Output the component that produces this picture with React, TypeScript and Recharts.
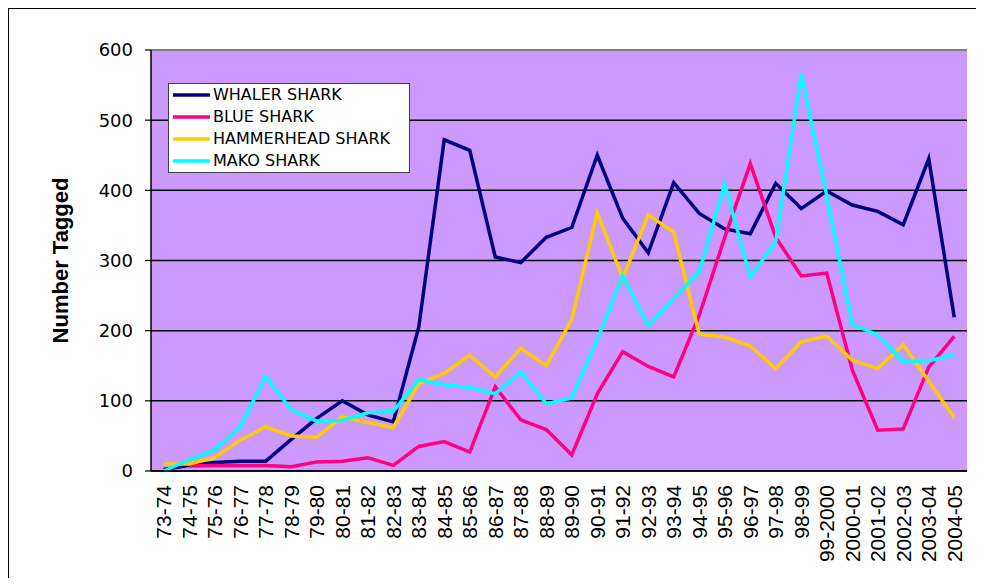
import React from 'react';
import { LineChart, Line, XAxis, YAxis, CartesianGrid, Legend, ReferenceLine, Label } from 'recharts';

const categories = ['73-74','74-75','75-76','76-77','77-78','78-79','79-80','80-81','81-82','82-83','83-84','84-85','85-86','86-87','87-88','88-89','89-90','90-91','91-92','92-93','93-94','94-95','95-96','96-97','97-98','98-99','99-2000','2000-01','2001-02','2002-03','2003-04','2004-05'];
const whaler = [2,8,12,14,14,45,75,100,80,70,205,472,457,305,297,333,347,450,360,311,411,367,345,338,410,374,399,379,370,351,445,219];
const blue = [null,7,8,8,8,6,13,14,19,8,35,42,27,120,73,59,23,110,170,149,134,222,333,438,333,278,282,144,58,60,148,192];
const hammer = [10,10,19,44,63,50,48,77,69,62,124,139,165,134,175,150,216,368,275,365,340,195,191,178,146,184,192,158,146,180,128,76];
const mako = [0,16,30,63,135,87,71,72,83,85,130,123,119,110,141,96,104,187,278,207,246,284,409,276,327,566,392,209,194,156,157,166];
const yTicks = [0,100,200,300,400,500,600];
const edgeTicks = categories.map((_, i) => i).concat([categories.length]);

const seriesNames = ['WHALER SHARK','BLUE SHARK','HAMMERHEAD SHARK','MAKO SHARK'];
const seriesKeys = ['whaler','blue','hammer','mako'];
const seriesColors = ['#000080','#FF0080','#FFCC00','#00FFFF'];

const data = categories.map((c, i) => ({
  cat: c,
  idx: i + 0.5,
  whaler: whaler[i],
  blue: blue[i],
  hammer: hammer[i],
  mako: mako[i],
}));

const XTick = (props: any) => {
  const { x, y, payload } = props;
  return (
    <text
      transform={`translate(${x},${y}) rotate(-90)`}
      textAnchor="end"
      dy="0.36em"
      fontFamily="'Liberation Sans', Arial, sans-serif"
      fontSize={21}
      fill="#000"
    >
      {payload.value}
    </text>
  );
};

const LegendBox = (props: any) => {
  const payload = (props.payload || []).slice().sort(
    (a: any, b: any) => seriesNames.indexOf(a.value) - seriesNames.indexOf(b.value)
  );
  return (
    <div
      style={{
        width: 242,
        height: 90,
        boxSizing: 'border-box',
        border: '1.5px solid #404040',
        background: '#fff',
        fontFamily: "'DejaVu Sans', Verdana, sans-serif",
        fontSize: 16,
        color: '#000',
      }}
    >
      {payload.map((p: any, i: number) => (
        <div key={i} style={{ height: 22, display: 'flex', alignItems: 'center', lineHeight: '22px' }}>
          <svg width={44} height={22} style={{ flex: 'none' }}>
            <line x1={4} x2={41} y1={11} y2={11} stroke={p.color} strokeWidth={3.5} />
          </svg>
          <span style={{ whiteSpace: 'nowrap' }}>{p.value}</span>
        </div>
      ))}
    </div>
  );
};

const YTitle = (props: any) => {
  const vb = props.viewBox || {};
  const cx = (vb.x || 0) + 52;
  const cy = (vb.y || 0) + (vb.height || 0) / 2;
  return (
    <text
      transform={`translate(${cx},${cy}) rotate(-90)`}
      textAnchor="middle"
      dy="0.36em"
      fontFamily="'Liberation Sans', Arial, sans-serif"
      fontWeight="bold"
      fontSize={22}
      fill="#000"
    >
      Number Tagged
    </text>
  );
};

export default function App() {
  return (
    <div style={{ position: 'relative', width: 968, height: 570 }}>
      <div
        style={{
          position: 'absolute',
          left: -1,
          top: -1,
          width: 969,
          height: 571,
          boxSizing: 'border-box',
          borderLeft: '2px solid #000',
          borderTop: '2px solid #000',
          pointerEvents: 'none',
        }}
      />
      <LineChart
        width={968}
        height={570}
        data={data}
        margin={{ top: 42, right: 9, left: 0, bottom: 7 }}
      >
        <CartesianGrid fill="#CC99FF" vertical={false} stroke="#000" strokeWidth={1.5} fillOpacity={1} />
        <XAxis
          xAxisId="edge"
          type="number"
          dataKey="idx"
          domain={[0, categories.length]}
          ticks={edgeTicks}
          tick={false}
          axisLine={false}
          tickLine={{ stroke: '#000', strokeWidth: 1.2 }}
          tickSize={6}
          height={0}
          allowDataOverflow
        />
        <XAxis
          dataKey="cat"
          scale="band"
          interval={0}
          tick={<XTick />}
          tickLine={false}
          tickSize={0}
          tickMargin={14}
          axisLine={{ stroke: '#000', strokeWidth: 1.5 }}
          height={100}
        />
        <YAxis
          domain={[0, 600]}
          ticks={yTicks}
          width={143}
          tickSize={6}
          tickMargin={12}
          tickLine={{ stroke: '#000', strokeWidth: 1.2 }}
          axisLine={{ stroke: '#000', strokeWidth: 1.5 }}
          tick={{ fontFamily: "'DejaVu Sans', Verdana, sans-serif", fontSize: 18, fill: '#000' }}
          interval={0}
        >
          <Label content={<YTitle />} />
        </YAxis>
        <YAxis
          yAxisId="r"
          orientation="right"
          domain={[0, 600]}
          width={0}
          tick={false}
          tickLine={false}
          axisLine={{ stroke: '#808080', strokeWidth: 2 }}
        />
        <ReferenceLine y={600} stroke="#808080" strokeWidth={2} />
        <Legend
          layout="vertical"
          align="center"
          verticalAlign="middle"
          content={<LegendBox />}
          wrapperStyle={{ position: 'absolute', left: 160, top: 75, width: 242, height: 90 }}
        />
        {seriesKeys.map((k, i) => (
          <Line
            key={k}
            type="linear"
            dataKey={k}
            name={seriesNames[i]}
            stroke={seriesColors[i]}
            strokeWidth={3.5}
            dot={false}
            activeDot={false}
            isAnimationActive={false}
            legendType="line"
          />
        ))}
      </LineChart>
    </div>
  );
}
